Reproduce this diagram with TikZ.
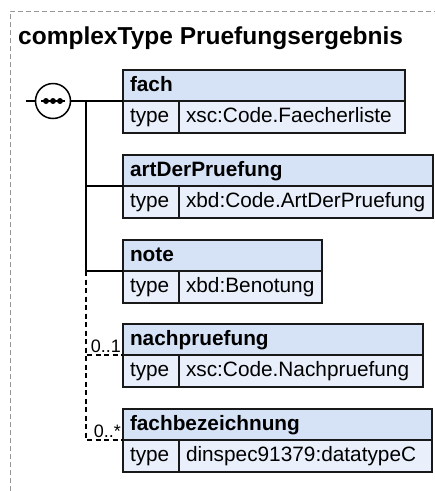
\documentclass[tikz,border=0pt]{standalone}
\usepackage{fontspec}
\setmainfont{Liberation Sans}
\usepackage{tikz}
\usetikzlibrary{positioning,calc}
\definecolor{hdrblue}{RGB}{214,227,247}
\definecolor{rowblue}{RGB}{233,240,251}
\definecolor{boxline}{RGB}{25,25,25}
\definecolor{framegray}{RGB}{150,150,150}
\tikzstyle{frame} = [draw=framegray, line width=0.9pt, dash pattern=on 5pt off 3pt]
\tikzstyle{title} = [font=\fontsize{24.5}{28}\selectfont\bfseries, inner sep=0pt]
\tikzstyle{hdr}   = [rectangle, draw=boxline, fill=hdrblue, line width=1.5pt,
                     minimum height=31pt, inner xsep=7pt, inner ysep=0pt, outer sep=0pt,
                     align=left, text height=15pt, text depth=4pt,
                     font=\fontsize{20.8}{24}\selectfont\bfseries]
\tikzstyle{cell}  = [rectangle, draw=boxline, fill=rowblue, line width=1.5pt,
                     minimum height=32pt, inner xsep=7pt, inner ysep=0pt, outer sep=0pt,
                     align=left, text height=15pt, text depth=4pt,
                     font=\fontsize{20.8}{24}\selectfont]
\tikzstyle{key}   = [cell, text width=42pt]
\tikzstyle{conn}  = [draw=black, line width=1.4pt]
\tikzstyle{opt}   = [conn, dash pattern=on 5pt off 3.5pt]
\tikzstyle{mult}  = [font=\fontsize{18}{20}\selectfont, inner sep=1pt]
\tikzstyle{seq}   = [circle, draw=black, line width=1.5pt, fill=white,
                     minimum size=35pt, inner sep=0pt]

\begin{document}
\begin{tikzpicture}[x=1pt, y=-1pt]
        \useasboundingbox (0,0) rectangle (435,491);
        \draw[frame] (10,491) -- (10,11) -- (435,11);
        \node[title, anchor=base west] (title) at (18,44) {complexType Pruefungsergebnis};

        % elements
        \node[hdr, anchor=north west, text width=268pt] (fach) at (123,70) {fach};
        \node[key, below=0pt of fach.south west, anchor=north west] (fachk) {type};
        \node[cell, right=0pt of fachk, text width=212pt] (fachv) {xsc:Code.Faecherliste};

        \node[hdr, anchor=north west, text width=296pt] (art) at (123,155) {artDerPruefung};
        \node[key, below=0pt of art.south west, anchor=north west] (artk) {type};
        \node[cell, right=0pt of artk, text width=240pt] (artv) {xbd:Code.ArtDerPruefung};

        \node[hdr, anchor=north west, text width=185pt] (note) at (123,240) {note};
        \node[key, below=0pt of note.south west, anchor=north west] (notek) {type};
        \node[cell, right=0pt of notek, text width=129pt] (notev) {xbd:Benotung};

        \node[hdr, anchor=north west, text width=286pt] (nach) at (123,324) {nachpruefung};
        \node[key, below=0pt of nach.south west, anchor=north west] (nachk) {type};
        \node[cell, right=0pt of nachk, text width=230pt] (nachv) {xsc:Code.Nachpruefung};

        \node[hdr, anchor=north west, text width=295pt] (fachb) at (123,409) {fachbezeichnung};
        \node[key, below=0pt of fachb.south west, anchor=north west] (fachbk) {type};
        \node[cell, right=0pt of fachbk, text width=239pt] (fachbv) {dinspec91379:datatypeC};

        % sequence
        \coordinate (stub) at (26,101);
        \coordinate (trunk) at (86,101);
        \node[seq] (seq) at (53,101) {};
        \draw[conn] (stub) -- (seq);
        \draw[conn] (seq) -- (fach.south west);
        \draw[conn] (trunk) |- (art.south west);
        \draw[conn] (trunk) |- (note.south west);
        \draw[opt] (trunk |- note.south west) |- (nach.south west);
        \draw[opt] (trunk |- note.south west) |- (fachb.south west);
        \draw[line width=1.4pt] ($(seq.center)+(-12,0)$) -- ($(seq.center)+(12,0)$);
        \foreach \dx in {-7,0,7}
            \fill ($(seq.center)+(\dx,0)$) circle (3pt);

        \node[mult, above left=1pt and 1pt of nach.south west] (nachm) {0..1};
        \node[mult, above left=1pt and 1pt of fachb.south west] (fachbm) {0..*};
\end{tikzpicture}
\end{document}
